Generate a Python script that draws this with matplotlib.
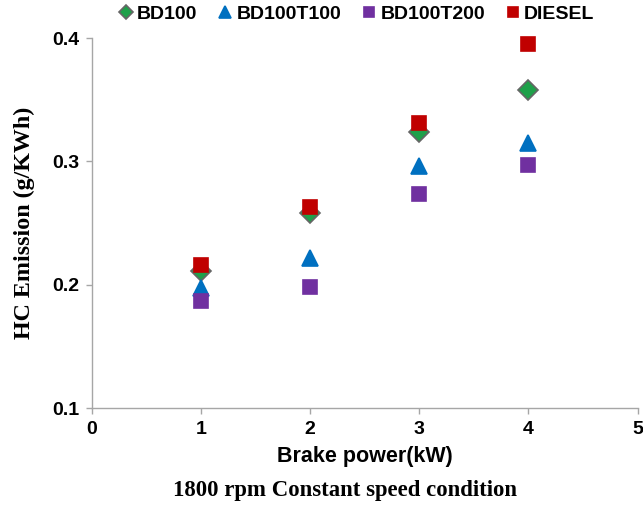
import numpy as np
from matplotlib import pyplot as plt

# brake power (kW)
power = [1, 2, 3, 4]

# HC emission (g/kWh)
bd100 = [0.211, 0.258, 0.324, 0.358]
bd100t100 = [0.197, 0.222, 0.296, 0.315]
bd100t200 = [0.187, 0.198, 0.274, 0.297]
diesel = [0.216, 0.263, 0.331, 0.395]

series = [
    ("BD100", bd100, "D", "#1fa04a", "#666666", 10),
    ("BD100T100", bd100t100, "^", "#0070c0", "#0070c0", 11),
    ("BD100T200", bd100t200, "s", "#7030a0", "#7030a0", 10.5),
    ("DIESEL", diesel, "s", "#c00000", "#c00000", 10.5),
]

fig = plt.figure(figsize=(6.43, 5.09), dpi=100)
ax = fig.add_axes([0.1426, 0.1984, 0.849, 0.7266])

for name, vals, mk, fc, ec, ms in series:
    ax.plot(power, vals, linestyle="none", marker=mk, markersize=ms,
            markerfacecolor=fc, markeredgecolor=ec, markeredgewidth=1.2,
            label=name, clip_on=False)

ax.set_xlim(0, 5)
ax.set_ylim(0.1, 0.4)
ax.set_xticks([0, 1, 2, 3, 4, 5])
ax.set_yticks([0.1, 0.2, 0.3, 0.4])
ax.set_yticklabels(["0.1", "0.2", "0.3", "0.4"])

for s in ["top", "right"]:
    ax.spines[s].set_visible(False)
for s in ["left", "bottom"]:
    ax.spines[s].set_color("#a6a6a6")
    ax.spines[s].set_linewidth(1.0)

ax.tick_params(axis="both", colors="#a6a6a6", length=4, width=1.0,
               labelcolor="black", labelsize=14)
ax.tick_params(axis="y", pad=5)
ax.tick_params(axis="x", pad=5)
for lab in ax.get_xticklabels() + ax.get_yticklabels():
    lab.set_fontweight("bold")
    lab.set_family("Liberation Sans")

ax.set_xlabel("Brake power(kW)", fontsize=15.5, fontweight="bold",
              family="Liberation Sans", labelpad=6)
ax.set_ylabel("HC Emission (g/KWh)", fontsize=17.3, fontweight="bold",
              family="Liberation Serif", labelpad=12)

fig.text(0.537, 0.037, "1800 rpm Constant speed condition", ha="center",
         va="center", fontsize=16.4, fontweight="bold", family="Liberation Serif")

leg = fig.legend(loc="center", bbox_to_anchor=(0.554, 0.972), ncol=4,
                 frameon=False, handletextpad=0.17, columnspacing=1.04,
                 handlelength=0.8, markerscale=0.75,
                 prop={"family": "Liberation Sans", "weight": "bold", "size": 14})

plt.savefig("out.png", dpi=100)
